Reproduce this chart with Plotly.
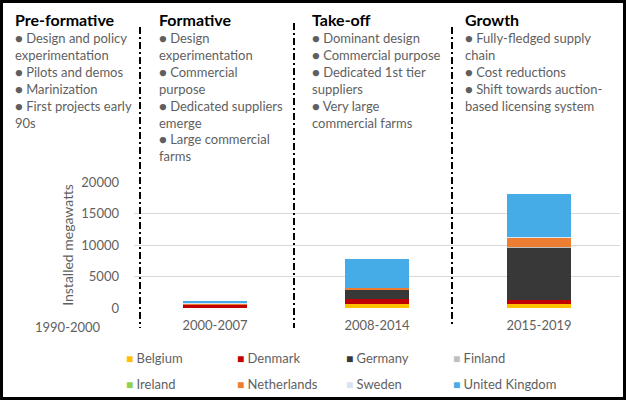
import plotly.graph_objects as go

# installed offshore wind capacity per phase (MW)
periods = ["2000-2007", "2008-2014", "2015-2019"]
countries = ["Belgium", "Denmark", "Germany", "Finland",
             "Ireland", "Netherlands", "Sweden", "United Kingdom"]
belgium = [0, 700, 700]
denmark = [570, 800, 520]
germany = [12, 1400, 8420]
finland = [0, 30, 70]
ireland = [25, 0, 0]
netherlands = [110, 250, 1480]
sweden = [110, 60, 30]
united_kingdom = [300, 4500, 6870]

colors = ["#FFC000", "#C00000", "#383838", "#BFBFBF",
          "#92D050", "#ED7D31", "#DAE3F3", "#45ACE8"]

y_ticks = [0, 5000, 10000, 15000, 20000]

phase_titles = ["Pre-formative", "Formative", "Take-off", "Growth"]
phase_notes = [
    ["Design and policy<br>experimentation", "Pilots and demos",
     "Marinization", "First projects early<br>90s"],
    ["Design<br>experimentation", "Commercial<br>purpose",
     "Dedicated suppliers<br>emerge", "Large commercial<br>farms"],
    ["Dominant design", "Commercial purpose",
     "Dedicated 1st tier<br>suppliers", "Very large<br>commercial farms"],
    ["Fully-fledged supply<br>chain", "Cost reductions",
     "Shift towards auction-<br>based licensing system"],
]

series = [belgium, denmark, germany, finland,
          ireland, netherlands, sweden, united_kingdom]

W, H = 626, 400
L, R, T, B = 134, 620, 182, 308
FONT = "Lato"
GREY = "#5f5f5f"


def fx(px):
    return (px - L) / (R - L)


def fy(py):
    return (B - py) / (B - T)


fig = go.Figure()
for name, vals, col in zip(countries, series, colors):
    fig.add_trace(go.Bar(
        x=periods, y=vals, name=name,
        marker=dict(color=col, line=dict(width=0)),
        width=0.4, showlegend=False,
    ))

annotations = []
# phase headers and bullet notes
col_x = [13, 157, 310, 463]
for cx, title, notes in zip(col_x, phase_titles, phase_notes):
    annotations.append(dict(
        x=fx(cx), y=fy(8), xref="paper", yref="paper",
        xanchor="left", yanchor="top", align="left", showarrow=False,
        text="<b>" + title + "</b>",
        font=dict(family=FONT, size=16, color="black"),
    ))
    annotations.append(dict(
        x=fx(cx), y=fy(28), xref="paper", yref="paper",
        xanchor="left", yanchor="top", align="left", showarrow=False,
        text="<br>".join("● " + n for n in notes),
        font=dict(family=FONT, size=13, color=GREY),
    ))

# first phase has no data bar, label sits left of the axis
annotations.append(dict(
    x=fx(68), y=fy(327), xref="paper", yref="paper",
    xanchor="center", yanchor="middle", showarrow=False,
    text="1990-2000", font=dict(family=FONT, size=13, color=GREY),
))

# legend laid out as a 4x2 grid like the original
leg_x = [124, 235, 344, 451]
leg_y = [358, 384]
for i, (name, col) in enumerate(zip(countries, colors)):
    annotations.append(dict(
        x=fx(leg_x[i % 4]), y=fy(leg_y[i // 4]), xref="paper", yref="paper",
        xanchor="left", yanchor="middle", showarrow=False,
        text='<span style="color:%s;font-size:12px">■</span> %s' % (col, name),
        font=dict(family=FONT, size=13, color=GREY),
    ))

shapes = []
# dash-dot phase separators
for sx, y0, y1 in [(140, 27, 328), (294, 23, 328), (452, 27, 326)]:
    shapes.append(dict(
        type="line", xref="paper", yref="paper",
        x0=fx(sx), x1=fx(sx), y0=fy(y0), y1=fy(y1),
        line=dict(color="black", width=2, dash="7px,3px,2px,3px"),
    ))
# outer frame
shapes.append(dict(
    type="rect", xref="paper", yref="paper",
    x0=fx(1.5), x1=fx(624.5), y0=fy(1.5), y1=fy(398.5),
    line=dict(color="black", width=3),
))

fig.update_layout(
    barmode="stack",
    width=W, height=H,
    margin=dict(l=L, r=W - R, t=T, b=H - B, pad=0),
    paper_bgcolor="white", plot_bgcolor="white",
    font=dict(family=FONT, size=13, color=GREY),
    xaxis=dict(
        showgrid=False, showline=False, ticks="",
        tickfont=dict(family=FONT, size=13, color=GREY),
        ticklabelstandoff=8,
    ),
    yaxis=dict(
        range=[0, 20000], tickvals=y_ticks, tickformat="d",
        showgrid=True, gridcolor="#D9D9D9", gridwidth=1,
        zeroline=False, showline=False, ticks="",
        tickfont=dict(family=FONT, size=13, color=GREY),
        ticklabelstandoff=14,
        title=dict(text="Installed megawatts", standoff=4,
                   font=dict(family=FONT, size=14, color=GREY)),
    ),
    annotations=annotations,
    shapes=shapes,
)

# drop the browser's default body margin so the 626x400 figure fits the window
fig.write_html("out.html", config={"displayModeBar": False},
               post_script="document.body.style.margin='0';")
